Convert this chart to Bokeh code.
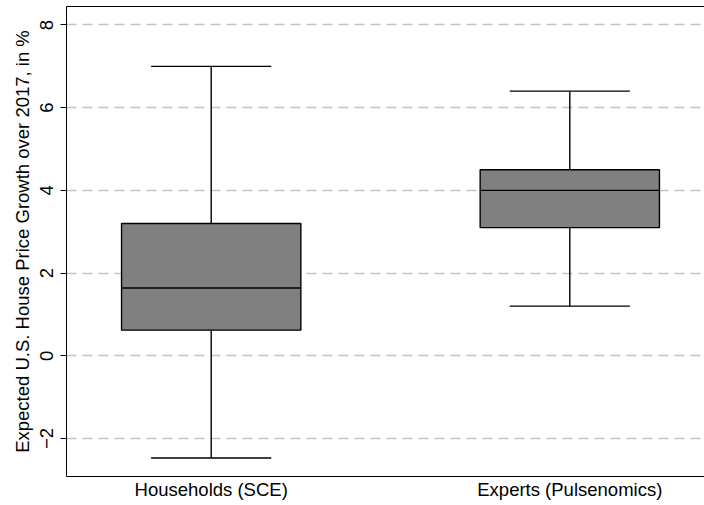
from bokeh.plotting import figure
from bokeh.models import Range1d, FixedTicker, LinearAxis, ColumnDataSource
from bokeh.embed import file_html
from bokeh.resources import INLINE

# ---- data ----
categories = ["Households (SCE)", "Experts (Pulsenomics)"]
whisker_low = [-2.47, 1.2]
q1 = [0.62, 3.1]
median = [1.64, 4.0]
q3 = [3.2, 4.5]
whisker_high = [7.0, 6.4]
y_ticks = [-2, 0, 2, 4, 6, 8]

FONT = "Liberation Sans"
FS = "18.5px"

pos = [i + 1 for i in range(len(categories))]
box_w = 0.5
cap_w = 0.335

src = ColumnDataSource(dict(
    x=pos,
    lo=whisker_low, q1=q1, med=median, q3=q3, hi=whisker_high,
    x0=[p_ - box_w / 2 for p_ in pos], x1=[p_ + box_w / 2 for p_ in pos],
    c0=[p_ - cap_w / 2 for p_ in pos], c1=[p_ + cap_w / 2 for p_ in pos],
))

p = figure(width=704, height=505, output_backend="svg", toolbar_location=None,
           x_range=Range1d(0.5965, 2.3756), y_range=Range1d(-2.919, 8.447),
           min_border_left=66, min_border_right=0, min_border_top=6,
           min_border_bottom=29)
p.outline_line_color = None
p.background_fill_color = "white"
p.border_fill_color = "white"

# whiskers
p.segment(x0="x", y0="lo", x1="x", y1="q1", source=src, line_color="black", line_width=1.4)
p.segment(x0="x", y0="q3", x1="x", y1="hi", source=src, line_color="black", line_width=1.4)
p.segment(x0="c0", y0="lo", x1="c1", y1="lo", source=src, line_color="black", line_width=1.4)
p.segment(x0="c0", y0="hi", x1="c1", y1="hi", source=src, line_color="black", line_width=1.4)
# boxes
p.quad(left="x0", right="x1", bottom="q1", top="q3", source=src,
       fill_color="#808080", line_color="black", line_width=1.4)
p.segment(x0="x0", y0="med", x1="x1", y1="med", source=src, line_color="black", line_width=1.4)

# grid
p.xgrid.grid_line_color = None
p.ygrid.ticker = FixedTicker(ticks=y_ticks)
p.ygrid.grid_line_color = "#c4c4c4"
p.ygrid.grid_line_width = 1.5
p.ygrid.grid_line_dash = "10 6"

# y axis
ya = p.yaxis[0]
ya.ticker = FixedTicker(ticks=y_ticks)
ya.major_label_overrides = {t: (str(t).replace("-", "\u2212")) for t in y_ticks}
ya.major_label_orientation = "vertical"
ya.major_label_text_font = FONT
ya.major_label_text_font_size = FS
ya.major_label_text_color = "black"
ya.major_tick_out = 6
ya.major_tick_in = 0
ya.minor_tick_line_color = None
ya.major_label_standoff = 7
ya.axis_label = "Expected U.S. House Price Growth over 2017, in %"
ya.axis_label_text_font = FONT
ya.axis_label_text_font_size = FS
ya.axis_label_text_font_style = "normal"
ya.axis_label_text_color = "black"
ya.axis_label_standoff = 5
ya.axis_line_color = "black"
ya.major_tick_line_color = "black"

# x axis
xa = p.xaxis[0]
xa.ticker = FixedTicker(ticks=pos)
xa.major_label_overrides = {p_: c for p_, c in zip(pos, categories)}
xa.major_label_text_font = FONT
xa.major_label_text_font_size = FS
xa.major_label_text_color = "black"
xa.major_tick_line_color = None
xa.major_tick_out = 0
xa.major_tick_in = 0
xa.minor_tick_line_color = None
xa.major_label_standoff = 2
xa.axis_line_color = "black"

# top frame line
top = LinearAxis(ticker=FixedTicker(ticks=[]), major_tick_out=0, major_tick_in=0,
                 major_label_standoff=0, major_label_text_font_size="0px",
                 minor_tick_line_color=None, major_tick_line_color=None,
                 axis_line_color="black")
p.add_layout(top, "above")

open("out.html", "w").write(file_html(p, INLINE))
